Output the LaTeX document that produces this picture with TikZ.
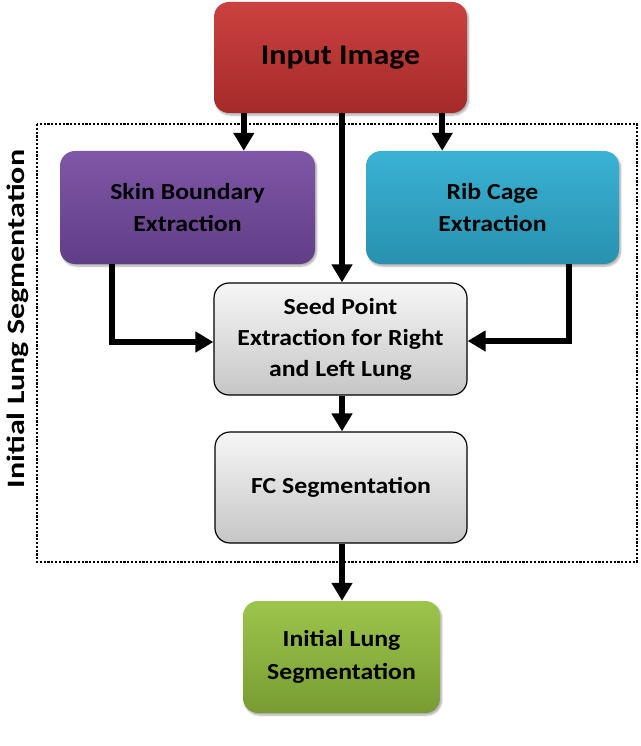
\documentclass[tikz,border=0pt]{standalone}
\usepackage{fontspec}
\setmainfont{Carlito}[FakeStretch=1.12]
\newfontfamily\lblfont{Carlito}[FakeStretch=1.28]
\usetikzlibrary{arrows.meta,shadows.blur,calc}
\definecolor{redT}{RGB}{203,66,63}
\definecolor{redB}{RGB}{165,42,42}
\definecolor{purT}{RGB}{127,87,167}
\definecolor{purB}{RGB}{96,62,134}
\definecolor{cyaT}{RGB}{58,178,212}
\definecolor{cyaB}{RGB}{40,145,175}
\definecolor{grnT}{RGB}{157,197,76}
\definecolor{grnB}{RGB}{120,156,50}
\definecolor{gryT}{RGB}{246,246,246}
\definecolor{gryB}{RGB}{198,198,198}
\tikzset{
  box/.style={rounded corners=15pt, align=center, font=\bfseries\fontsize{23}{32}\selectfont, inner sep=0pt},
  colbox/.style={box, blur shadow={shadow xshift=1.5pt, shadow yshift=-2pt, shadow blur steps=6, shadow opacity=35}},
  graybox/.style={box, draw=black, line width=1.2pt, top color=gryT, bottom color=gryB},
  arr/.style={line width=6pt, -{Triangle[width=20pt,length=18pt]}},
  frame/.style={line width=2.8pt, dash pattern=on 2.2pt off 1.6pt},
}
\begin{document}
\begin{tikzpicture}[x=1pt,y=-1pt]
\useasboundingbox (0,0) rectangle (640,746);
\node[colbox, top color=redT, bottom color=redB, minimum width=253pt, minimum height=111pt, font=\bfseries\fontsize{28.5}{32}\selectfont] (input) at (340.5,57.5) {Input Image};
\draw[frame] (37,124) rectangle (637,562);
\node[colbox, top color=purT, bottom color=purB, minimum width=255pt, minimum height=113pt] (skin) at (187.5,207.5) {Skin Boundary\\Extraction};
\node[colbox, top color=cyaT, bottom color=cyaB, minimum width=253pt, minimum height=113pt] (rib) at (492.5,207.5) {Rib Cage\\Extraction};
\node[graybox, minimum width=253pt, minimum height=112pt, font=\bfseries\fontsize{23}{31}\selectfont] (seed) at (340.5,339) {Seed Point\\Extraction for Right\\and Left Lung};
\node[graybox, minimum width=252pt, minimum height=111pt] (fc) at (341,487.5) {FC Segmentation};
\node[colbox, top color=grnT, bottom color=grnB, minimum width=197pt, minimum height=112pt, font=\bfseries\fontsize{23}{33}\selectfont] (out) at (341.5,657) {Initial Lung\\Segmentation};
\node[rotate=90, font=\lblfont\bfseries\fontsize{25}{28}\selectfont] (lbl) at (18,319) {Initial Lung Segmentation};
\draw[arr] ([xshift=30pt]input.south west) -- ([xshift=30pt]input.south west |- skin.north);
\draw[arr] ([xshift=-25pt]input.south east) -- ([xshift=-25pt]input.south east |- rib.north);
\draw[arr] ([xshift=1.5pt]input.south) -- ([xshift=1.5pt]input.south |- seed.north);
\draw[arr] ([xshift=52pt]skin.south west) |- ([yshift=-3pt]seed.west);
\draw[arr] ([xshift=-50pt]rib.south east) |- ([yshift=-2pt]seed.east);
\draw[arr] ([xshift=1.5pt]seed.south) -- ([xshift=1pt]fc.north);
\draw[arr] ([xshift=1pt]fc.south) -- ([xshift=0.5pt]out.north);
\end{tikzpicture}
\end{document}
